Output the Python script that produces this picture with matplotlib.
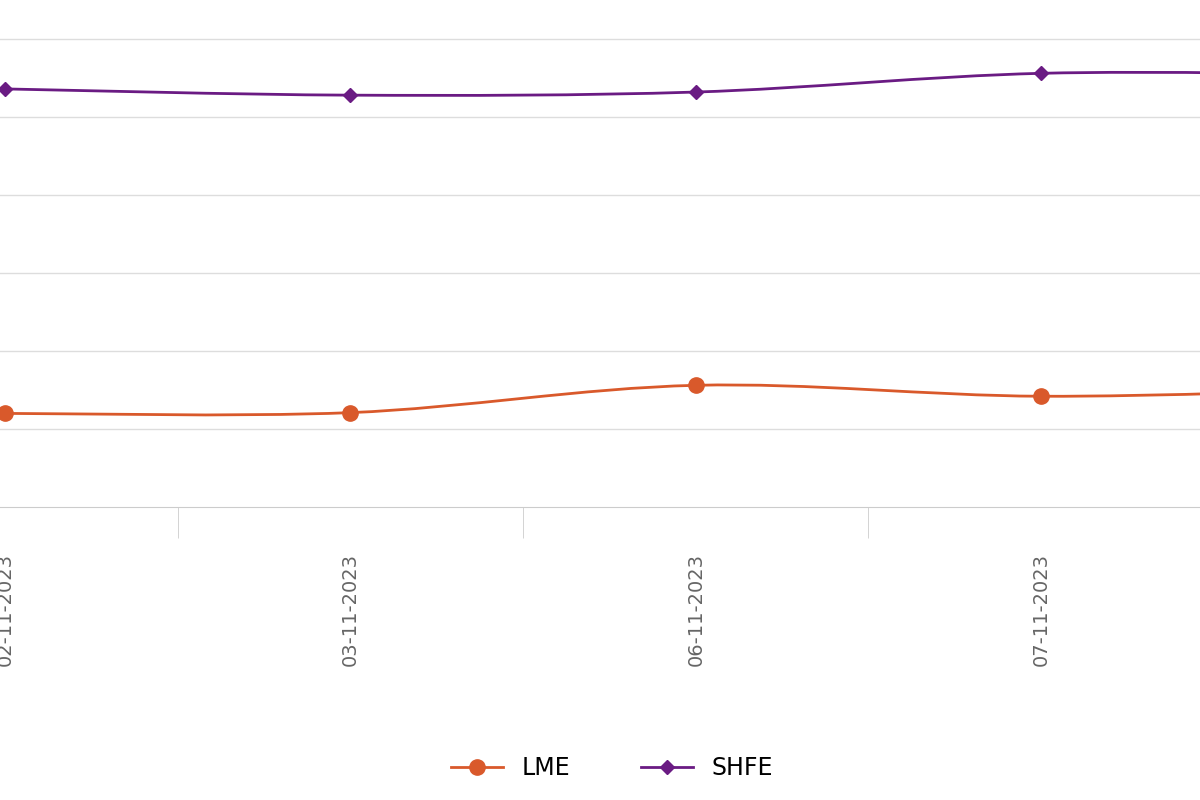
import matplotlib.pyplot as plt
import numpy as np
from matplotlib.path import Path
from matplotlib.patches import PathPatch
from matplotlib.lines import Line2D

dates = ["02-11-2023", "03-11-2023", "06-11-2023", "07-11-2023", "08-11-2023"]
lme = [1.20, 1.21, 1.56, 1.42, 1.52]
shfe = [5.36, 5.28, 5.32, 5.56, 5.54]

lme_col = "#d9592b"
shfe_col = "#6a1b83"


def smooth(ax, xs, ys, color):
    # catmull-rom style bezier through the points
    xs = np.asarray(xs, float); ys = np.asarray(ys, float)
    verts = [(xs[0], ys[0])]; codes = [Path.MOVETO]
    n = len(xs)
    for i in range(n - 1):
        p0 = (xs[max(i - 1, 0)], ys[max(i - 1, 0)])
        p1 = (xs[i], ys[i]); p2 = (xs[i + 1], ys[i + 1])
        p3 = (xs[min(i + 2, n - 1)], ys[min(i + 2, n - 1)])
        c1 = (p1[0] + (p2[0] - p0[0]) / 6, p1[1] + (p2[1] - p0[1]) / 6)
        c2 = (p2[0] - (p3[0] - p1[0]) / 6, p2[1] - (p3[1] - p1[1]) / 6)
        verts += [c1, c2, p2]; codes += [Path.CURVE4] * 3
    ax.add_patch(PathPatch(Path(verts, codes), fill=False, ec=color, lw=2, zorder=3))


fig = plt.figure(figsize=(12, 8), dpi=100)
ax = fig.add_axes([0, 293 / 800, 1, 507 / 800])
x = np.arange(len(dates))

for y in range(1, 7):
    ax.axhline(y, color="#dddddd", lw=1, zorder=1)

smooth(ax, x, lme, lme_col)
smooth(ax, x, shfe, shfe_col)
ax.plot(x, lme, "o", color=lme_col, ms=11, zorder=4, clip_on=True)
ax.plot(x, shfe, "D", color=shfe_col, ms=7, zorder=4)

for s in ["top", "left", "right"]:
    ax.spines[s].set_visible(False)
ax.spines["bottom"].set_color("#cccccc")
ax.set_yticks([])
ax.set_xticks(x[:-1])
ax.set_xticklabels(dates[:-1], rotation=90, color="#666666", fontsize=14)
ax.tick_params(axis="x", length=0, pad=33)
ax.set_xticks(x[:-2] + 0.5, minor=True)
ax.tick_params(axis="x", which="minor", length=22, color="#cccccc")
ax.set_xlim(-0.0145, 3.46)
ax.set_ylim(0, 6.5)

handles = [Line2D([], [], color=lme_col, marker="o", ms=11, lw=2),
           Line2D([], [], color=shfe_col, marker="D", ms=7, lw=2)]
fig.legend(handles, ["LME", "SHFE"], loc="center", bbox_to_anchor=(0.51, 0.04),
           ncol=2, frameon=False, fontsize=17, handlelength=2.2, columnspacing=3)
fig.savefig("out.png")
